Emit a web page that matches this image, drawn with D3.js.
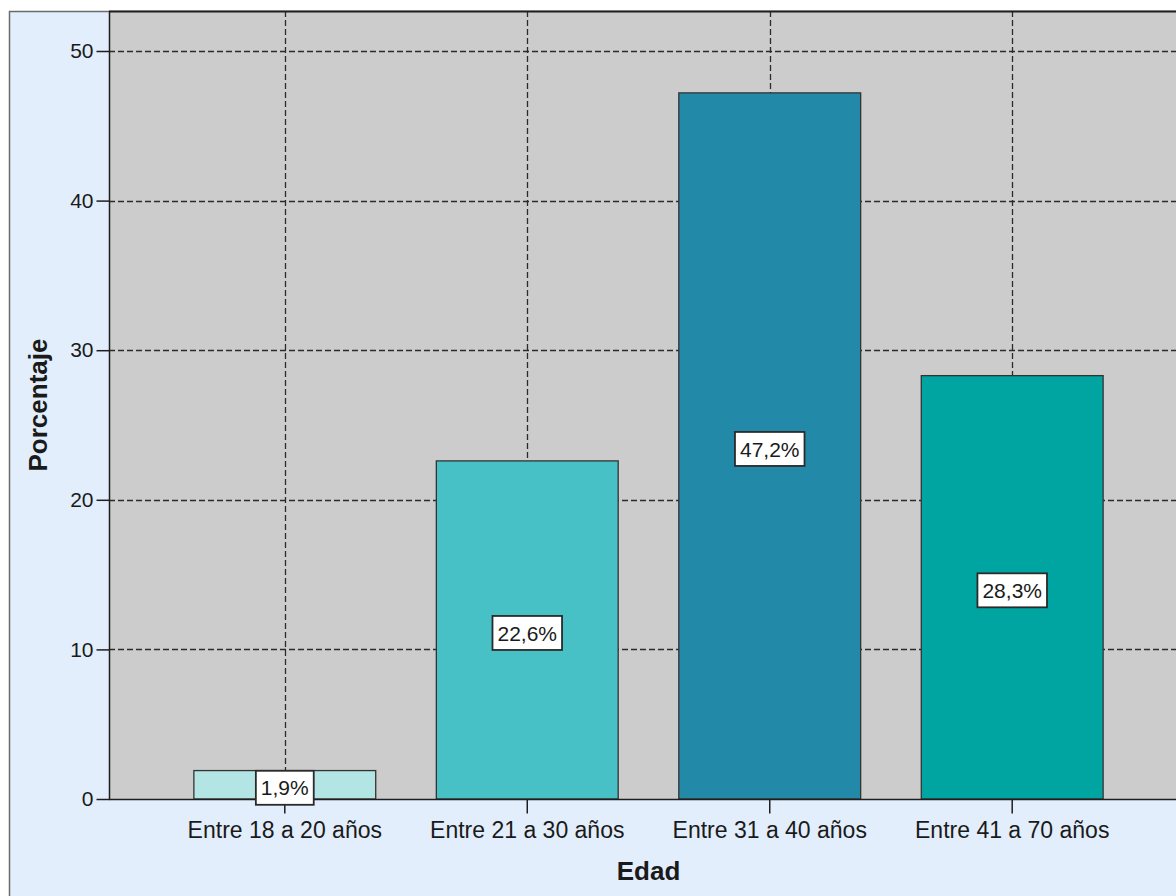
<!DOCTYPE html>
<html>
<head>
<meta charset="utf-8">
<script src="https://cdn.jsdelivr.net/npm/d3@7"></script>
<style>
  html, body { margin: 0; padding: 0; background: #ffffff; }
  svg { display: block; }
  text { font-family: "Liberation Sans", Arial, sans-serif; fill: #1a1a1a; }
</style>
</head>
<body>
<svg id="chart" width="1176" height="896"></svg>
<script>
// ---- data ----
const categories = ["Entre 18 a 20 años", "Entre 21 a 30 años", "Entre 31 a 40 años", "Entre 41 a 70 años"];
const percentages = [1.9, 22.6, 47.2, 28.3];
const valueLabels = ["1,9%", "22,6%", "47,2%", "28,3%"];
const barColors = ["#B3E5E4", "#47C1C5", "#2389A9", "#00A5A2"];
const yTicks = [0, 10, 20, 30, 40, 50];
const xTitle = "Edad";
const yTitle = "Porcentaje";

// ---- layout ----
const W = 1176, H = 896;
const frame = { x: 9, y: 11 };
const plot = { left: 109, right: 1188, top: 11, bottom: 799 };

const svg = d3.select("#chart");

const x = d3.scaleBand()
  .domain(categories)
  .range([plot.left, plot.right])
  .paddingInner(0.25)
  .paddingOuter(0.35);

const y = d3.scaleLinear()
  .domain([0, 50])
  .range([plot.bottom, 51]);

// outer frame
svg.append("rect")
  .attr("x", frame.x + 0.5).attr("y", frame.y + 0.5)
  .attr("width", W + 40).attr("height", H + 40)
  .attr("fill", "#E2EEFB")
  .attr("stroke", "#6b6b6b").attr("stroke-width", 1.5);

// plot background
svg.append("rect")
  .attr("x", plot.left).attr("y", plot.top)
  .attr("width", plot.right - plot.left).attr("height", plot.bottom - plot.top)
  .attr("fill", "#CCCCCC");

// horizontal grid lines (dashed)
svg.append("g")
  .selectAll("line")
  .data(yTicks.filter(d => d > 0))
  .join("line")
  .attr("x1", plot.left).attr("x2", plot.right)
  .attr("y1", d => Math.round(y(d)) + 0.5).attr("y2", d => Math.round(y(d)) + 0.5)
  .attr("stroke", "#2b2b2b").attr("stroke-width", 1.3)
  .attr("stroke-dasharray", "6,3");

// vertical grid lines (dashed) at category centres
svg.append("g")
  .selectAll("line")
  .data(categories)
  .join("line")
  .attr("x1", d => Math.round(x(d) + x.bandwidth() / 2) + 0.5)
  .attr("x2", d => Math.round(x(d) + x.bandwidth() / 2) + 0.5)
  .attr("y1", plot.top).attr("y2", plot.bottom)
  .attr("stroke", "#2b2b2b").attr("stroke-width", 1.3)
  .attr("stroke-dasharray", "6,3");

// bars
svg.append("g")
  .selectAll("rect")
  .data(categories)
  .join("rect")
  .attr("x", d => x(d))
  .attr("y", (d, i) => y(percentages[i]))
  .attr("width", x.bandwidth())
  .attr("height", (d, i) => y(0) - y(percentages[i]))
  .attr("fill", (d, i) => barColors[i])
  .attr("stroke", "#333333").attr("stroke-width", 1.3);

// plot border top + left (y axis line)
svg.append("line")
  .attr("x1", plot.left).attr("x2", plot.right)
  .attr("y1", plot.top + 0.5).attr("y2", plot.top + 0.5)
  .attr("stroke", "#1e1e1e").attr("stroke-width", 2);

// y axis
const yAxis = d3.axisLeft(y).tickValues(yTicks).tickSize(13).tickPadding(3).tickFormat(d3.format("d"));
const gy = svg.append("g")
  .attr("transform", `translate(${plot.left + 0.5},0)`)
  .call(yAxis);
gy.select(".domain").attr("d", `M0,${plot.top}V${plot.bottom}`).attr("stroke", "#1e1e1e").attr("stroke-width", 1.5);
gy.selectAll(".tick line").attr("stroke", "#1e1e1e").attr("stroke-width", 1.5);
gy.selectAll(".tick text")
  .attr("font-size", 21)
  .attr("font-family", "'Liberation Sans', Arial, sans-serif")
  .attr("fill", "#1a1a1a");

// x axis
const xAxis = d3.axisBottom(x).tickSize(14).tickPadding(8);
const gx = svg.append("g")
  .attr("transform", `translate(0,${plot.bottom + 0.5})`)
  .call(xAxis);
gx.select(".domain").attr("d", `M${plot.left},0H${plot.right}`).attr("stroke", "#1e1e1e").attr("stroke-width", 1.5);
gx.selectAll(".tick line").attr("stroke", "#1e1e1e").attr("stroke-width", 1.5);
gx.selectAll(".tick text")
  .attr("font-size", 23)
  .attr("font-family", "'Liberation Sans', Arial, sans-serif")
  .attr("fill", "#1a1a1a");

// value labels in boxes
const labelG = svg.append("g")
  .selectAll("g")
  .data(categories)
  .join("g")
  .attr("transform", (d, i) => `translate(${x(d) + x.bandwidth() / 2},${y(percentages[i] / 2) + 3})`);

labelG.append("text")
  .attr("text-anchor", "middle")
  .attr("dy", "0.36em")
  .attr("font-size", 21)
  .text((d, i) => valueLabels[i]);

labelG.each(function () {
  const g = d3.select(this);
  const bb = g.select("text").node().getBBox();
  const padX = 5;
  g.insert("rect", "text")
    .attr("x", bb.x - padX)
    .attr("y", -17)
    .attr("width", bb.width + 2 * padX)
    .attr("height", 34)
    .attr("fill", "#ffffff")
    .attr("stroke", "#2a2a2a").attr("stroke-width", 1.8);
});

// axis titles
svg.append("text")
  .attr("x", (plot.left + plot.right) / 2)
  .attr("y", 880)
  .attr("text-anchor", "middle")
  .attr("font-size", 26)
  .attr("font-weight", "bold")
  .text(xTitle);

svg.append("text")
  .attr("transform", `translate(47,${(plot.top + plot.bottom) / 2}) rotate(-90)`)
  .attr("text-anchor", "middle")
  .attr("font-size", 26)
  .attr("font-weight", "bold")
  .text(yTitle);
</script>
</body>
</html>
